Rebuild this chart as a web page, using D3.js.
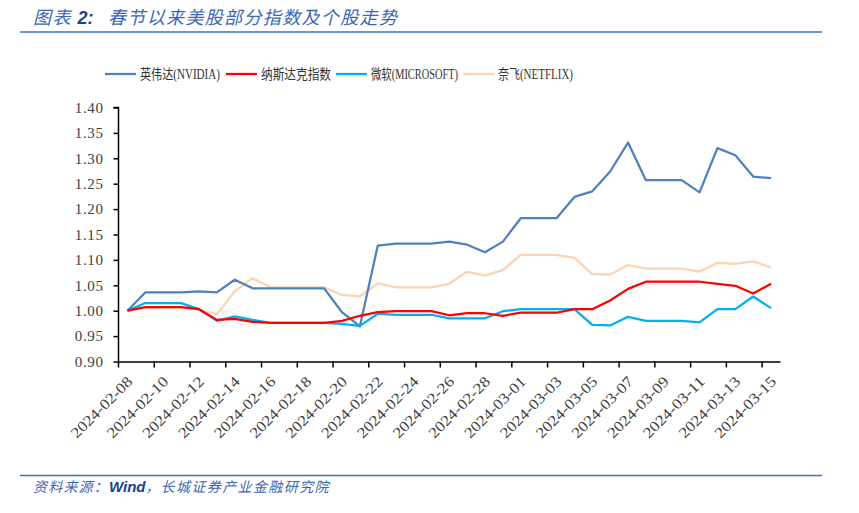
<!DOCTYPE html>
<html>
<head>
<meta charset="utf-8">
<script src="https://cdn.jsdelivr.net/npm/d3@7/dist/d3.min.js"></script>
<style>
  html, body { margin: 0; padding: 0; background: #fff; }
  svg { display: block; }
</style>
</head>
<body>
<svg id="chart" width="859" height="513"></svg>
<script>
// ---------- DATA ----------
const dates = [
  "2024-02-08","2024-02-09","2024-02-10","2024-02-11","2024-02-12","2024-02-13","2024-02-14",
  "2024-02-15","2024-02-16","2024-02-17","2024-02-18","2024-02-19","2024-02-20","2024-02-21",
  "2024-02-22","2024-02-23","2024-02-24","2024-02-25","2024-02-26","2024-02-27","2024-02-28",
  "2024-02-29","2024-03-01","2024-03-02","2024-03-03","2024-03-04","2024-03-05","2024-03-06",
  "2024-03-07","2024-03-08","2024-03-09","2024-03-10","2024-03-11","2024-03-12","2024-03-13",
  "2024-03-14","2024-03-15"
];
const seriesNames = ["英伟达(NVIDIA)", "纳斯达克指数", "微软(MICROSOFT)", "奈飞(NETFLIX)"];
const nvidia = [1.000,1.036,1.036,1.036,1.038,1.036,1.061,1.044,1.044,1.044,1.044,1.044,0.997,0.969,
  1.128,1.132,1.132,1.132,1.136,1.130,1.115,1.136,1.182,1.182,1.182,1.224,1.235,1.274,
  1.331,1.257,1.257,1.257,1.233,1.320,1.306,1.264,1.261];
const nasdaq = [1.000,1.007,1.007,1.007,1.003,0.982,0.984,0.978,0.976,0.976,0.976,0.976,0.980,0.990,
  0.997,0.999,0.999,0.999,0.991,0.995,0.995,0.990,0.996,0.996,0.996,1.003,1.003,1.020,
  1.043,1.057,1.057,1.057,1.057,1.053,1.049,1.034,1.053];
const microsoft = [1.000,1.015,1.015,1.015,1.003,0.980,0.989,0.982,0.976,0.976,0.976,0.976,0.974,0.970,
  0.994,0.992,0.992,0.992,0.985,0.985,0.985,0.999,1.003,1.003,1.003,1.003,0.972,0.971,
  0.988,0.980,0.980,0.980,0.977,1.003,1.003,1.028,1.005];
const netflix = [1.000,1.006,1.006,1.006,1.002,0.993,1.038,1.064,1.046,1.046,1.046,1.046,1.031,1.028,
  1.054,1.046,1.046,1.046,1.053,1.077,1.069,1.080,1.110,1.110,1.110,1.104,1.072,1.071,
  1.090,1.083,1.083,1.083,1.077,1.094,1.092,1.097,1.085];
const yTicks = [0.90,0.95,1.00,1.05,1.10,1.15,1.20,1.25,1.30,1.35,1.40];
const titleText = "春节以来美股部分指数及个股走势";
const sourceText = "长城证券产业金融研究院";

// ---------- CHART ----------
const colors = ["#4f81bd", "#ff0000", "#00b0f0", "#fbd4b4"];
const allSeries = [nvidia, nasdaq, microsoft, netflix];
const serifFont = "'Liberation Serif', 'DejaVu Serif', 'Noto Sans CJK SC', serif";
const svg = d3.select("#chart");

const x = d3.scaleBand().domain(dates).range([118.5, 780]).padding(0);
const bw = x.bandwidth();
const cx = d => x(d) + bw / 2;
const y = d3.scaleLinear().domain([0.9, 1.4]).range([361.5, 107.5]);

// Title
const title = svg.append("text").attr("x", 33).attr("y", 24)
  .attr("font-family", "'Noto Sans CJK SC', sans-serif").attr("font-size", 18)
  .attr("font-style", "italic").attr("fill", "#3c66b5");
title.append("tspan").text("图表 ").attr("letter-spacing", 1.5);
title.append("tspan").text("2:").attr("font-weight", "bold").attr("fill", "#1d3f8f")
  .attr("font-family", "'Liberation Sans', sans-serif");
title.append("tspan").attr("x", 108).text(titleText).attr("letter-spacing", 1.35);

svg.append("line").attr("x1", 20).attr("x2", 822).attr("y1", 32).attr("y2", 32)
  .attr("stroke", "#3f6fc4").attr("stroke-width", 1.3);

// Footer
svg.append("line").attr("x1", 20).attr("x2", 822).attr("y1", 475.5).attr("y2", 475.5)
  .attr("stroke", "#3f6fc4").attr("stroke-width", 1.3);
const foot = svg.append("text").attr("x", 33).attr("y", 492)
  .attr("font-family", "'Noto Sans CJK SC', sans-serif").attr("font-size", 14)
  .attr("font-style", "italic").attr("fill", "#3c66b5");
foot.append("tspan").text("资料来源：").attr("letter-spacing", 1.2);
foot.append("tspan").text("Wind").attr("font-family", "'Liberation Sans', sans-serif")
  .attr("font-weight", "bold").attr("fill", "#1d3f8f").attr("font-size", 15);
foot.append("tspan").text("，").attr("letter-spacing", 1);
foot.append("tspan").text(sourceText).attr("letter-spacing", 1.4);

// Y axis
const yAxis = d3.axisLeft(y).tickValues(yTicks).tickFormat(d3.format(".2f")).tickSize(5).tickPadding(10);
const gy = svg.append("g").attr("transform", "translate(118.5,0)").call(yAxis)
  .attr("font-family", serifFont);
gy.select(".domain").attr("stroke", "#000").attr("stroke-width", 1.5).attr("d", "M-5,107.5H0V361.5");
gy.selectAll(".tick line").attr("stroke", "#000").attr("stroke-width", 1.5);
gy.selectAll(".tick text").style("font-family", serifFont).attr("font-size", 15)
  .attr("fill", "#404040").attr("letter-spacing", 0.6);

// X axis
const labelDates = dates.filter((d, i) => i % 2 === 0);
const xAxis = d3.axisBottom(x).tickValues(labelDates).tickSize(6).tickSizeOuter(0);
const gx = svg.append("g").attr("transform", "translate(0,361.5)").call(xAxis)
  .attr("font-family", serifFont);
gx.select(".domain").attr("stroke", "#000").attr("stroke-width", 1.5);
gx.selectAll(".tick line").attr("stroke", "#000").attr("stroke-width", 1.5)
  .attr("transform", `translate(${-bw / 2},0)`);
gx.selectAll(".tick text")
  .style("font-family", serifFont).attr("font-size", 15).attr("fill", "#404040")
  .attr("text-anchor", "end").attr("y", 0).attr("dy", 0)
  .attr("transform", "translate(6,21) rotate(-45)")
  .attr("textLength", 80).attr("lengthAdjust", "spacingAndGlyphs");

// Lines
const line = d3.line().x((v, i) => cx(dates[i])).y(v => y(v));
const order = [3, 0, 2, 1];
order.forEach(k => {
  svg.append("path").datum(allSeries[k]).attr("d", line)
    .attr("fill", "none").attr("stroke", colors[k]).attr("stroke-width", 2.25)
    .attr("stroke-linejoin", "round");
});

// Legend
const legend = [
  {x1: 105, x2: 136, tx: 140, tl: 80},
  {x1: 226, x2: 257, tx: 261, tl: 70},
  {x1: 336, x2: 367, tx: 371, tl: 87},
  {x1: 463, x2: 494, tx: 498, tl: 75}
];
legend.forEach((l, k) => {
  svg.append("line").attr("x1", l.x1).attr("x2", l.x2).attr("y1", 74).attr("y2", 74)
    .attr("stroke", colors[k]).attr("stroke-width", 2.25);
  svg.append("text").attr("x", l.tx).attr("y", 79)
    .style("font-family", serifFont).attr("font-size", 14)
    .attr("fill", "#333").text(seriesNames[k])
    .attr("textLength", l.tl).attr("lengthAdjust", "spacingAndGlyphs");
});
</script>
</body>
</html>
